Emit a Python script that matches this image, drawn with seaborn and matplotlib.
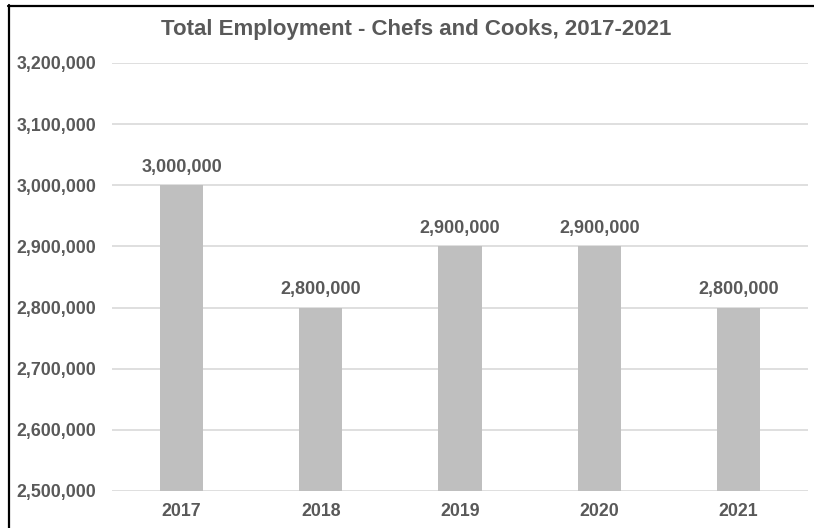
import matplotlib
matplotlib.use("Agg")
import matplotlib.pyplot as plt
from matplotlib.lines import Line2D
import seaborn as sns
import pandas as pd

years = ["2017", "2018", "2019", "2020", "2021"]
employment = [3000000, 2800000, 2900000, 2900000, 2800000]
y_ticks = [2500000, 2600000, 2700000, 2800000, 2900000, 3000000, 3100000, 3200000]

sns.set_theme(style="white")
plt.rcParams["font.family"] = ["Liberation Sans", "DejaVu Sans"]

TEXT = "#595959"
BAR = "#bfbfbf"
GRID = "#d9d9d9"

df = pd.DataFrame({"year": years, "employment": employment})

fig = plt.figure(figsize=(8.14, 5.28), dpi=100)
ax = fig.add_axes([112 / 814, 1 - 491 / 528, 696 / 814, 428 / 528])

sns.barplot(data=df, x="year", y="employment", color=BAR, width=0.31,
            saturation=1, linewidth=0, ax=ax, zorder=3)

ax.set_ylim(y_ticks[0], y_ticks[-1])
ax.set_xlim(-0.5, len(years) - 0.5)
ax.set_yticks(y_ticks)
ax.set_yticklabels([f"{v:,}" for v in y_ticks])
ax.yaxis.grid(True, color=GRID, linewidth=1.2, zorder=0)
ax.xaxis.grid(False)
for s in ax.spines.values():
    s.set_visible(False)
ax.set_xlabel("")
ax.set_ylabel("")
ax.tick_params(axis="y", length=0, pad=11.5, labelsize=12.8, labelcolor=TEXT)
ax.tick_params(axis="x", length=0, pad=9, labelsize=12.8, labelcolor=TEXT)
for lbl in ax.get_yticklabels() + ax.get_xticklabels():
    lbl.set_fontweight("bold")

for i, v in enumerate(employment):
    ax.annotate(f"{v:,}", (i, v), xytext=(0, 7), textcoords="offset points",
                ha="center", va="bottom", fontsize=13, fontweight="bold",
                color=TEXT)

fig.text(416 / 814, 1 - 30 / 528, "Total Employment - Chefs and Cooks, 2017-2021",
         ha="center", va="center", fontsize=16, fontweight="bold", color=TEXT)

# frame around the chart (left and top edges)
fig.add_artist(Line2D([8.5 / 814, 8.5 / 814], [0, 1 - 5 / 528],
                      transform=fig.transFigure, color="black", linewidth=1.6))
fig.add_artist(Line2D([8 / 814, 1], [1 - 5.5 / 528, 1 - 5.5 / 528],
                      transform=fig.transFigure, color="black", linewidth=1.6))

fig.savefig("out.png", dpi=100, facecolor="white")
